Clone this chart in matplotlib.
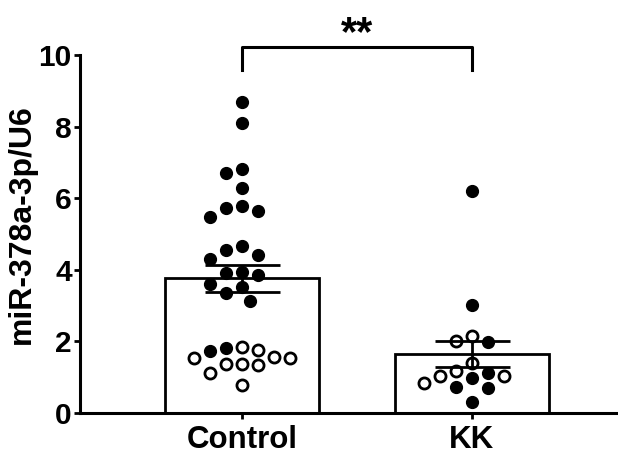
import numpy as np
import matplotlib
matplotlib.use("Agg")
import matplotlib.pyplot as plt

plt.rcParams['font.family'] = ['Liberation Sans', 'DejaVu Sans']
plt.rcParams['font.weight'] = 'bold'

# data
groups = ["Control", "KK"]
control_filled = [8.68, 8.09, 6.81, 6.70, 6.28, 5.72, 5.48, 5.65, 5.79, 4.67, 4.41,
                  4.30, 4.55, 3.90, 3.85, 3.95, 3.59, 3.51, 3.36, 3.14, 1.82, 1.74]
control_open = [1.76, 1.55, 1.55, 1.85, 1.37, 1.34, 1.13, 1.37, 1.56, 0.78]
kk_filled = [6.20, 3.02, 1.99, 0.99, 1.13, 0.73, 0.71, 0.32]
kk_open = [2.02, 2.15, 1.39, 1.18, 1.04, 1.03, 0.85]
y_ticks = [0, 2, 4, 6, 8, 10]
y_label = "miR-378a-3p/U6"
sig_label = "**"


def swarm_offsets(ax, xc, values, step_px=8, min_dist_px=14):
    # simple beeswarm in pixel space, returns x offsets in data units
    to_px = ax.transData
    x0 = to_px.transform((xc, 0))[0]
    x1 = to_px.transform((xc + 1, 0))[0]
    px_per_x = x1 - x0
    ys = np.array([to_px.transform((xc, v))[1] for v in values])
    order = np.argsort(-np.array(values), kind="stable")
    placed = []
    offs = np.zeros(len(values))
    cands = [0]
    for k in range(1, 30):
        cands += [-k * step_px, k * step_px]
    for i in order:
        for c in cands:
            ok = True
            for (px, py) in placed:
                if (c - px) ** 2 + (ys[i] - py) ** 2 < min_dist_px ** 2:
                    ok = False
                    break
            if ok:
                offs[i] = c
                placed.append((c, ys[i]))
                break
    return offs / px_per_x


fig = plt.figure(figsize=(6.18, 4.57), dpi=100)
ax = fig.add_axes([80 / 618, 44 / 457, 538 / 618, 358 / 457])
ax.set_xlim(-0.704, 1.635)
ax.set_ylim(0, 10)

all_groups = [(control_filled, control_open), (kk_filled, kk_open)]
means = []
sems = []
for filled, opened in all_groups:
    vals = np.array(filled + opened)
    means.append(vals.mean())
    sems.append(vals.std(ddof=1) / np.sqrt(len(vals)))

xs = np.arange(len(groups))
ax.bar(xs, means, width=0.67, color="white", edgecolor="black", linewidth=2, zorder=1)

for xc, (filled, opened) in zip(xs, all_groups):
    vals = filled + opened
    offs = swarm_offsets(ax, xc, vals)
    nf = len(filled)
    ax.plot(xc + offs[:nf], filled, "o", ms=8.5, mfc="black", mec="black", mew=1,
            zorder=3, clip_on=False)
    ax.plot(xc + offs[nf:], opened, "o", ms=8, mfc="white", mec="black", mew=2,
            zorder=3, clip_on=False)

ax.errorbar(xs, means, yerr=sems, fmt="none", ecolor="black", elinewidth=2,
            capsize=27, capthick=2, zorder=4)

# significance bracket
ax.plot([0, 0, 1, 1], [9.58, 10.23, 10.23, 9.58], color="black", lw=2.2, clip_on=False)
ax.text(0.5, 10.03, sig_label, ha="center", va="bottom", fontsize=30,
        fontweight="bold", clip_on=False)

for s in ["top", "right"]:
    ax.spines[s].set_visible(False)
for s in ["left", "bottom"]:
    ax.spines[s].set_linewidth(2.2)

ax.set_yticks(y_ticks)
ax.set_xticks(xs)
ax.set_xticklabels(groups, fontsize=22.5, fontweight="bold")
ax.tick_params(axis="y", labelsize=21.5, length=4, width=2, pad=2)
ax.tick_params(axis="x", length=4, width=2, pad=5)
for lab in ax.get_yticklabels():
    lab.set_fontweight("bold")
ax.set_ylabel(y_label, fontsize=23, fontweight="bold")
ax.yaxis.set_label_coords(-0.08, 0.528)

fig.savefig("out.png", dpi=100)
